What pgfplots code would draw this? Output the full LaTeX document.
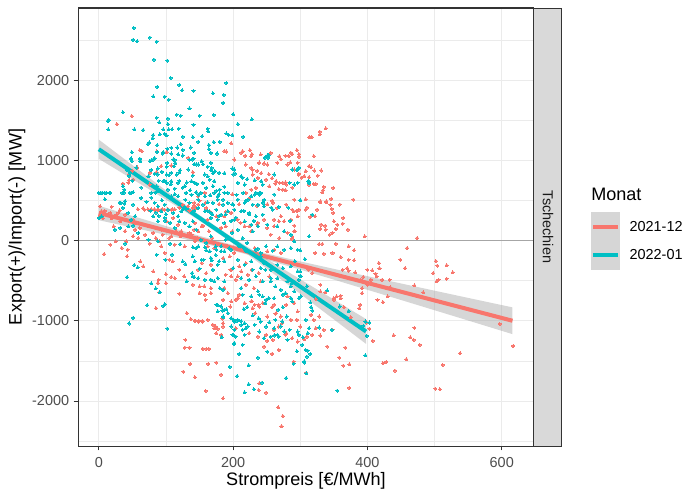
\documentclass[border=0pt]{standalone}
\usepackage{fontspec}
\setmainfont{Liberation Sans}
\usepackage{pgfplots}
\usepackage{pgfplotstable}
\pgfplotsset{compat=1.18}
\definecolor{ggred}{HTML}{F8766D}
\definecolor{ggteal}{HTML}{00BFC4}
\definecolor{gray92}{HTML}{EBEBEB}
\definecolor{gray85}{HTML}{D9D9D9}
\definecolor{gray60}{HTML}{999999}
\definecolor{gray30}{HTML}{4D4D4D}
\definecolor{gray20}{HTML}{333333}
\definecolor{gray10}{HTML}{1A1A1A}
\definecolor{hline}{HTML}{A6A6A6}

% 2021-12
\pgfplotstableread{
x y
49 1554
27 1454
61 1129
86 1112
101 1104
197 1213
190 1112
212 1096
218 1058
225 1129
228 1079
239 975
246 962
229 883
236 871
242 842
253 829
258 779
263 712
271 1017
278 1058
288 1079
295 1129
298 1079
285 975
313 1287
298 834
302 787
278 725
45 829
45 754
36 712
57 912
50 871
19 421
9 371
2 308
6 279
19 279
26 321
31 379
58 392
66 404
73 392
78 392
83 392
88 392
95 392
103 392
110 392
120 412
135 371
142 433
150 496
159 475
179 454
189 362
199 579
209 454
224 529
236 433
251 454
258 496
268 642
278 629
288 662
295 371
308 517
310 412
64 1117
93 929
86 854
76 846
108 937
133 1033
140 854
44 721
51 762
76 700
68 387
74 387
78 387
83 387
88 387
93 387
98 387
103 387
108 387
113 390
125 450
133 429
140 408
148 450
2 429
4 367
17 346
29 346
39 325
51 262
32 242
22 179
39 117
54 137
69 75
81 96
93 137
108 54
123 117
138 75
143 -8
128 -71
113 -50
93 -71
76 -37
59 33
41 -8
34 -92
17 -50
111 283
118 200
101 242
96 137
187 1117
214 1117
241 1075
256 1096
269 1054
283 1054
298 1046
286 1096
227 1054
239 971
251 950
266 971
281 950
296 971
291 887
298 825
229 825
237 783
249 762
264 742
269 721
279 700
254 679
274 637
227 908
219 950
202 1012
158 596
148 554
142 471
145 408
160 408
165 367
175 304
162 262
153 179
143 221
148 117
187 304
197 346
182 158
207 262
217 179
227 117
237 221
246 262
251 158
261 262
271 304
276 242
286 262
296 304
256 75
269 33
281 96
291 117
219 596
227 637
234 658
274 721
291 512
279 450
288 387
259 471
266 408
8 -167
25 -8
43 -113
42 -196
62 -258
66 -321
81 -383
89 -488
90 -646
85 -842
100 -417
108 -454
120 -663
131 -904
137 -979
144 -1000
149 -1000
154 -1000
174 -1071
177 -1100
129 -1238
128 -1333
135 -1333
155 -1350
160 -1350
164 -1350
136 -1538
126 -1633
143 -1704
163 -1538
175 -1521
182 -1671
159 -1875
185 -1967
238 -1863
249 -1896
267 -2079
274 -2188
272 -2313
239 -1779
184 -971
185 -1029
196 -821
204 -738
209 -675
228 -758
238 -800
233 -904
258 -829
263 -913
268 -1071
273 -1029
278 -1175
295 -988
300 -1071
258 -1413
268 -1363
246 -1321
251 -1250
290 -1508
309 -1646
288 54
261 179
268 242
211 221
224 179
236 200
189 179
199 117
155 187
164 117
169 33
135 96
142 137
147 33
115 117
122 54
95 75
105 33
73 179
85 33
90 -8
53 212
61 158
51 54
98 -154
105 -238
120 -363
127 -446
113 -467
110 -258
100 -529
88 -529
189 -425
196 -363
204 -488
209 -321
219 -279
228 -363
238 -404
219 -550
231 -592
241 -508
150 -654
157 -571
159 -738
167 -654
162 -71
172 -92
192 -71
202 -154
212 -113
232 -92
261 -113
271 -154
251 -133
195 -196
185 -217
167 -300
153 -279
148 -363
160 -404
197 -363
212 -383
222 -425
207 -446
197 -446
254 -446
140 -550
150 -571
158 -675
167 -592
187 -592
192 -654
185 -738
197 -758
207 -717
217 -779
227 -758
232 -800
239 -821
229 -842
244 -779
261 -800
279 -800
281 -696
291 -779
296 -883
264 -904
271 -946
286 -988
251 -946
143 -1000
148 -1008
155 -1008
162 -988
170 -1050
172 -1092
175 -1154
182 -1175
185 -1071
204 -1092
224 -1154
237 -1196
249 -1175
259 -1238
261 -1113
279 -1154
288 -1217
296 -1258
290 367
295 367
298 387
308 387
315 296
322 304
325 387
330 479
339 479
345 450
347 396
349 346
359 450
364 283
363 213
371 137
350 242
355 200
353 146
348 96
344 75
337 187
331 200
330 146
338 137
291 187
292 117
287 21
328 -42
333 -42
353 -38
372 -71
380 -121
396 54
335 -163
348 -154
322 -154
360 -204
372 -238
380 -246
363 -363
370 -342
372 -375
382 -396
400 -363
407 -371
417 -279
418 -342
412 -413
394 -454
390 -488
400 -550
405 -488
414 -446
422 -488
430 -696
433 -488
434 -579
392 -592
392 -654
360 -688
350 -717
330 -633
323 -729
318 -404
312 -362
330 -550
337 -646
415 -738
423 -767
338 1400
329 1358
329 1325
314 1292
317 1292
320 1054
313 929
316 917
308 867
321 875
331 875
306 804
313 792
326 812
320 708
323 708
313 700
335 671
334 629
333 604
349 658
346 521
339 492
330 492
379 512
389 -800
388 -842
375 -954
399 -1021
403 -1096
408 -1250
439 -1179
367 -1333
358 -1458
364 -1558
373 -1542
423 -1529
428 -1513
441 -1621
373 -1837
335 -1113
348 -1113
323 -1092
330 -1183
318 -1175
310 -1196
306 -1229
340 -1321
320 -988
328 -946
316 -925
350 -737
365 -829
360 -717
354 -696
459 -92
474 33
449 -237
456 -342
470 -558
483 -646
502 -254
504 -312
498 -404
506 -487
503 -508
518 -475
518 -308
527 -396
512 -1550
538 -1404
501 -1846
508 -1854
597 -1038
617 -1313
464 -1204
469 -1237
470 -1088
478 -1300
458 -1479
}\reddata

% 2022-01
\pgfplotstableread{
x y
52 2654
51 2504
57 2487
76 2533
86 2483
82 2258
102 2246
107 2029
87 1917
120 1942
124 1875
141 1867
190 1967
170 1837
186 1817
185 1717
81 1800
98 1796
104 1758
135 1650
13 1492
15 1504
14 1387
36 1600
86 1533
103 1521
90 1475
116 1571
122 1558
150 1558
171 1567
200 1575
228 1512
207 1454
141 1446
53 1387
66 1379
96 1387
103 1454
104 1387
101 1312
109 1387
119 1396
162 1396
163 1362
154 1304
140 1292
148 1233
171 1229
180 1233
190 1337
193 1321
199 1317
215 1296
125 1296
122 1204
117 1162
125 1133
137 1162
164 1192
164 1142
81 1317
80 1279
75 1225
73 1204
87 1192
87 1108
102 1146
108 1158
95 1087
91 1325
98 1333
48 1025
62 992
78 1000
83 1029
83 837
78 883
88 900
101 921
114 967
121 879
113 1008
135 1008
141 1021
142 954
155 954
162 921
167 879
170 842
179 846
187 842
199 900
203 837
214 787
221 767
232 754
240 596
242 742
253 1067
251 1050
295 879
313 733
300 504
94 858
105 817
98 746
107 704
113 650
120 746
125 662
131 725
136 629
113 579
129 512
146 708
152 596
166 567
175 621
179 579
185 512
192 596
199 454
205 571
215 596
219 496
227 554
234 596
246 508
257 412
268 421
282 412
285 246
0 596
5 596
11 596
16 596
9 517
36 679
38 637
35 596
48 596
31 475
38 462
63 662
63 533
71 483
78 537
89 746
84 600
94 504
48 1017
56 912
45 808
50 746
77 371
85 350
89 308
100 329
99 246
125 392
142 371
162 371
169 329
179 308
189 329
197 246
204 288
216 371
224 329
231 246
76 992
81 1012
96 1104
108 1087
118 1075
125 1062
111 1012
102 971
112 929
49 992
61 1021
49 1104
42 887
46 846
74 804
88 825
101 825
108 846
116 825
120 854
133 887
140 812
148 950
96 742
101 721
108 742
118 721
128 679
138 742
143 721
86 679
88 617
103 637
78 596
96 596
108 554
118 554
130 596
138 575
145 604
3 596
9 596
17 596
37 596
46 596
51 604
33 471
39 492
51 450
36 408
44 346
54 304
48 262
83 471
88 429
98 450
93 367
103 387
111 346
118 304
123 367
128 408
135 471
81 304
88 242
98 283
106 221
113 158
120 242
128 221
135 179
140 242
145 137
0.5 283
4 304
24 137
32 158
44 179
51 187
59 96
74 12
88 -8
106 -37
142 1096
140 1012
145 950
153 992
167 1096
176 1087
167 971
168 908
173 867
251 1062
247 1033
252 1033
202 887
200 825
212 804
207 721
217 700
158 825
162 804
155 721
165 762
172 742
160 658
170 679
180 637
187 671
187 596
172 596
177 554
158 554
148 575
232 575
239 575
241 596
261 575
244 471
246 429
259 387
237 450
261 825
244 700
284 721
291 700
296 721
288 887
298 908
148 512
155 450
162 479
170 471
177 512
185 450
192 471
200 450
207 512
217 471
222 512
229 450
148 408
158 367
167 346
175 387
182 325
192 367
202 387
212 367
224 346
234 304
244 325
167 283
177 262
187 221
202 262
217 242
227 200
237 179
251 200
266 179
276 117
286 75
39 -38
53 -304
58 -333
42 -454
78 -533
85 -596
91 -646
72 -804
96 -812
98 -792
51 -963
45 -1033
102 -1096
86 -175
99 -238
109 -175
121 -42
125 -258
129 -292
131 -508
139 -404
142 -454
150 -350
156 -238
160 -121
168 -246
174 -179
179 -258
172 -508
177 -804
184 -871
190 -854
185 -958
183 -1204
201 -1292
195 -1575
206 -1688
217 -1892
223 -1792
231 -1854
243 -1771
223 -1554
214 -1300
209 -1413
199 -1175
204 -1196
214 -1113
219 -1092
197 -967
201 -988
206 -1000
212 -1004
216 -854
221 -829
229 -933
238 -967
237 -1458
251 -1383
246 -1217
261 -1183
268 -1196
263 -988
273 -1008
280 -946
248 -779
253 -717
267 -862
274 -829
288 -758
298 -717
284 -1113
298 -1175
304 -1204
290 -1537
295 -1379
279 -1713
306 -1504
308 -1363
140 -196
145 -92
152 12
160 -29
167 54
174 -71
182 -133
189 12
194 -92
199 96
207 137
214 33
221 -29
229 117
234 -113
241 -196
246 -279
248 -363
256 -467
263 -571
271 -613
278 -654
288 -529
140 -83
148 -71
158 -83
165 -133
175 -113
182 -71
187 -133
197 -113
209 -71
219 -133
237 -100
241 -154
249 -71
259 -125
266 -71
276 -113
286 -92
296 -113
143 -258
153 -238
167 -217
177 -300
170 -363
187 -258
207 -238
200 -342
217 -300
227 -258
229 -363
241 -342
249 -279
256 -363
266 -300
274 -342
286 -321
296 -383
301 -446
140 -446
148 -467
158 -488
167 -488
177 -467
187 -508
212 -467
224 -488
234 -446
244 -508
256 -508
266 -467
281 -508
286 -571
180 -592
185 -613
212 -592
214 -675
237 -633
239 -675
244 -696
227 -696
249 -738
261 -717
274 -675
291 -633
286 -717
175 -800
182 -821
187 -863
177 -883
192 -904
185 -946
197 -967
202 -1008
207 -988
212 -1050
217 -1029
197 -1071
202 -1113
222 -1071
232 -1050
241 -1008
254 -1017
249 -1071
261 -1092
271 -1071
276 -1133
239 -1133
266 -1175
256 -1196
281 -1238
296 -1133
217 -1175
200 -1175
202 -1279
300 504
318 325
313 54
291 -8
300 -121
307 -229
292 -258
300 -383
300 -438
298 -488
340 -621
310 -571
301 -696
312 742
313 721
315 -771
316 -829
318 -871
359 -821
372 -879
308 -988
313 -1092
311 -1154
347 -1113
328 -1083
303 -1300
311 -1371
315 -1413
310 -1446
306 -1521
309 -1654
355 -1871
397 -1008
399 -1188
397 -1429
394 -1063
403 -1021
}\tealdata

\begin{document}
\begin{tikzpicture}
\useasboundingbox (0,0) rectangle (504pt,360pt);
\begin{axis}[
  at={(56.16pt,38.88pt)}, anchor=south west,
  scale only axis, width=328.3pt, height=315.4pt,
  xmin=-31, xmax=648, ymin=-2561, ymax=2902,
  xtick={0,200,400,600}, ytick={-2000,-1000,0,1000,2000},
  minor xtick={100,300,500}, minor ytick={-2500,-1500,-500,500,1500,2500},
  grid=both,
  major grid style={color=gray92, line width=0.6pt},
  minor grid style={color=gray92, line width=0.35pt},
  axis line style={color=gray20, line width=0.7pt},
  tick align=outside, tick pos=left,
  major tick length=3.2pt, minor tick length=0pt,
  tick style={color=gray20, line width=0.6pt},
  ticklabel style={font=\fontsize{10.4}{12}\selectfont, color=gray30},
  xticklabel style={inner sep=0pt, yshift=-4.6pt},
  yticklabel style={inner sep=0pt, xshift=-3pt},
  /pgf/number format/assume math mode=true,
  /pgf/number format/1000 sep={},
]
\addplot[only marks, mark=*, color=ggred, mark size=1.1pt, mark options={line width=0pt}] table[x=x,y=y] {\reddata};
\addplot[only marks, mark=*, color=ggteal, mark size=1.1pt, mark options={line width=0pt}] table[x=x,y=y] {\tealdata};
\addplot[color=hline, line width=1pt] coordinates {(-31,0) (648,0)};
% 2021-12 smooth band and fit
\addplot[draw=none, fill=gray60, fill opacity=0.4] coordinates {
(0,435) (50,308) (100,182) (150,60) (200,-56) (250,-161) (300,-259) (350,-352) (400,-443) (450,-534) (500,-624) (550,-714) (616,-832)
(616,-1166) (550,-996) (500,-868) (450,-740) (400,-613) (350,-486) (300,-361) (250,-239) (200,-126) (150,-24) (100,72) (50,164) (0,255)} -- cycle;
\addplot[color=ggred, line width=2.9pt] coordinates {(0,345) (616,-999)};
% 2022-01 smooth band and fit
\addplot[draw=none, fill=gray60, fill opacity=0.4] coordinates {
(0,1260) (50,942) (100,626) (150,317) (200,33) (250,-227) (300,-482) (350,-735) (398,-978)
(398,-1288) (350,-982) (300,-664) (250,-348) (200,-37) (150,250) (100,512) (50,767) (0,1020)} -- cycle;
\addplot[color=ggteal, line width=2.9pt] coordinates {(0,1140) (398,-1133)};
\end{axis}
% panel border
\draw[gray20, line width=0.7pt] (56.16pt,38.88pt) rectangle (384.46pt,354.24pt);
% facet strip
\draw[fill=gray85, draw=gray20, line width=0.7pt] (384.46pt,38.88pt) rectangle (404.6pt,354.24pt);
\node[rotate=-90, font=\fontsize{10.4}{12}\selectfont, text=gray10] at (394.5pt,196.6pt) {Tschechien};
% axis titles
\node[font=\fontsize{13}{15}\selectfont] at (220.3pt,13.7pt) {Strompreis [€/MWh]};
\node[rotate=90, font=\fontsize{13}{15}\selectfont] at (12.2pt,196.6pt) {Export(+)/Import(-) [MW]};
% legend
\node[anchor=base west, inner sep=0pt, font=\fontsize{13}{15}\selectfont] at (425.5pt,215.5pt) {Monat};
\fill[gray60, opacity=0.4] (425.5pt,165.6pt) rectangle (446.4pt,207.6pt);
\draw[ggred, line width=2.9pt] (427pt,196.8pt) -- (444.8pt,196.8pt);
\draw[ggteal, line width=2.9pt] (427pt,176.4pt) -- (444.8pt,176.4pt);
\node[anchor=west, inner sep=0pt, font=\fontsize{10.4}{12}\selectfont] at (453.1pt,196.8pt) {2021-12};
\node[anchor=west, inner sep=0pt, font=\fontsize{10.4}{12}\selectfont] at (453.1pt,176.4pt) {2022-01};
\end{tikzpicture}
\end{document}
